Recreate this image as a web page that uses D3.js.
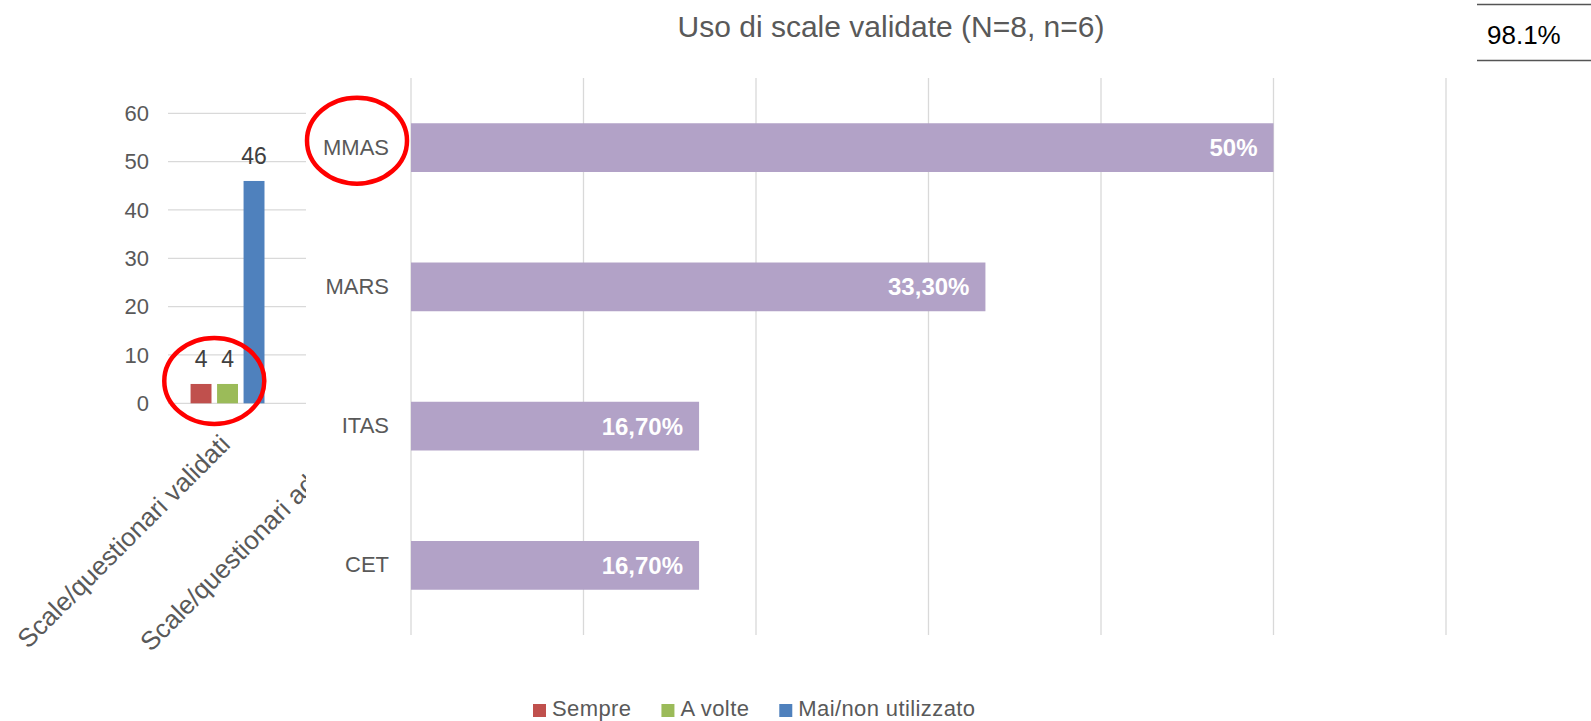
<!DOCTYPE html>
<html>
<head>
<meta charset="utf-8">
<script src="https://cdn.jsdelivr.net/npm/d3@7"></script>
<style>
  html, body { margin: 0; padding: 0; background: #fff; }
  svg { display: block; font-family: "Liberation Sans", Arial, sans-serif; }
</style>
</head>
<body>
<div class="chart"></div>
<script>
// left chart (partly hidden behind the right one)
const leftCats = ["Scale/questionari validati", "Scale/questionari adattati"];
const leftSeries = ["Sempre", "A volte", "Mai/non utilizzato"];
const sempreValues = [4, null];
const aVolteValues = [4, null];
const maiValues = [46, null];
const leftTicks = [0, 10, 20, 30, 40, 50, 60];

// right chart
const scaleNames = ["MMAS", "MARS", "ITAS", "CET"];
const scaleShares = [0.5, 0.333, 0.167, 0.167];
const shareLabels = ["50%", "33,30%", "16,70%", "16,70%"];
const shareTicks = [0, 0.1, 0.2, 0.3, 0.4, 0.5, 0.6];

const chartTitle = "Uso di scale validate (N=8, n=6)";
const cornerValue = "98.1%";

const width = 1591, height = 721;
const seriesColors = d3.scaleOrdinal().domain(leftSeries).range(["#C0504D", "#9BBB59", "#4F81BD"]);

const svg = d3.select(".chart").append("svg")
  .attr("width", width)
  .attr("height", height);

// ---------- left chart ----------
const left = svg.append("g");

const yLeft = d3.scaleLinear().domain([0, 60]).range([403.3, 113.3]);
const x0 = d3.scaleBand().domain(leftCats).range([164.5, 416.5])
  .paddingInner(0.413).paddingOuter(0.207);
const x1 = d3.scaleBand().domain(leftSeries).range([0, x0.bandwidth()])
  .paddingInner(0.21).paddingOuter(0);

left.selectAll(".lgrid")
  .data(leftTicks)
  .enter()
  .append("line")
  .attr("x1", 168)
  .attr("x2", 416)
  .attr("y1", (d) => yLeft(d))
  .attr("y2", (d) => yLeft(d))
  .attr("stroke", "#d9d9d9")
  .attr("stroke-width", 1.3);

const yAxisLeft = d3.axisLeft(yLeft).tickValues(leftTicks).tickSize(0).tickPadding(0);
left.append("g")
  .attr("transform", "translate(149,0)")
  .call(yAxisLeft)
  .call((g) => g.select(".domain").remove())
  .selectAll("text")
  .attr("font-size", 22)
  .attr("fill", "#595959")
  .attr("font-family", "Liberation Sans, Arial, sans-serif");

const leftRows = leftCats.map((c, i) => ({
  cat: c,
  vals: [
    { s: leftSeries[0], v: sempreValues[i] },
    { s: leftSeries[1], v: aVolteValues[i] },
    { s: leftSeries[2], v: maiValues[i] }
  ].filter((d) => d.v != null)
}));

const groups = left.selectAll(".grp")
  .data(leftRows)
  .enter()
  .append("g")
  .attr("transform", (d) => `translate(${x0(d.cat)},0)`);

groups.selectAll("rect")
  .data((d) => d.vals)
  .enter()
  .append("rect")
  .attr("x", (d) => x1(d.s))
  .attr("width", x1.bandwidth())
  .attr("y", (d) => yLeft(d.v))
  .attr("height", (d) => yLeft(0) - yLeft(d.v))
  .attr("fill", (d) => seriesColors(d.s));

groups.selectAll("text")
  .data((d) => d.vals)
  .enter()
  .append("text")
  .attr("x", (d) => x1(d.s) + x1.bandwidth() / 2)
  .attr("y", (d) => yLeft(d.v) - 17)
  .attr("text-anchor", "middle")
  .attr("font-size", 23)
  .attr("fill", "#404040")
  .text((d) => d.v);

// rotated category labels
left.selectAll(".catlab")
  .data(leftCats)
  .enter()
  .append("text")
  .attr("transform", (d) => `translate(${x0(d) + x0.bandwidth() / 2 + 4},446) rotate(-45)`)
  .attr("text-anchor", "end")
  .attr("font-size", 26)
  .attr("fill", "#595959")
  .text((d) => d);

// legend
const legend = left.append("g");
let lx = 533;
leftSeries.forEach((s) => {
  legend.append("rect")
    .attr("x", lx)
    .attr("y", 704)
    .attr("width", 13)
    .attr("height", 13)
    .attr("fill", seriesColors(s));
  const t = legend.append("text")
    .attr("x", lx + 19)
    .attr("y", 716)
    .attr("font-size", 22)
    .attr("letter-spacing", 0.4)
    .attr("fill", "#595959")
    .text(s);
  lx = lx + 19 + t.node().getComputedTextLength() + 30;
});

// ---------- right chart (white panel on top) ----------
const right = svg.append("g");
right.append("rect")
  .attr("x", 306)
  .attr("y", 0)
  .attr("width", width - 306)
  .attr("height", 660)
  .attr("fill", "#fff");

const xRight = d3.scaleLinear().domain([0, 0.6]).range([411, 1446]);
const yRight = d3.scaleBand().domain(scaleNames).range([78, 635])
  .paddingInner(0.65).paddingOuter(0.325);

right.selectAll(".rgrid")
  .data(shareTicks)
  .enter()
  .append("line")
  .attr("x1", (d) => xRight(d))
  .attr("x2", (d) => xRight(d))
  .attr("y1", 78)
  .attr("y2", 635)
  .attr("stroke", "#d9d9d9")
  .attr("stroke-width", 1.3);

right.selectAll(".bar")
  .data(scaleNames)
  .enter()
  .append("rect")
  .attr("x", xRight(0))
  .attr("y", (d) => yRight(d))
  .attr("height", yRight.bandwidth())
  .attr("width", (d, i) => xRight(scaleShares[i]) - xRight(0))
  .attr("fill", "#B2A2C7");

right.selectAll(".barlab")
  .data(scaleNames)
  .enter()
  .append("text")
  .attr("x", (d, i) => xRight(scaleShares[i]) - 16)
  .attr("y", (d) => yRight(d) + yRight.bandwidth() / 2)
  .attr("dy", "0.35em")
  .attr("text-anchor", "end")
  .attr("font-size", 24)
  .attr("font-weight", "bold")
  .attr("fill", "#fff")
  .text((d, i) => shareLabels[i]);

const yAxisRight = d3.axisLeft(yRight).tickSize(0).tickPadding(0);
right.append("g")
  .attr("transform", "translate(389,0)")
  .call(yAxisRight)
  .call((g) => g.select(".domain").remove())
  .selectAll("text")
  .attr("font-size", 22)
  .attr("fill", "#595959")
  .attr("font-family", "Liberation Sans, Arial, sans-serif");

right.append("text")
  .attr("x", 891)
  .attr("y", 37)
  .attr("text-anchor", "middle")
  .attr("font-size", 30)
  .attr("fill", "#595959")
  .text(chartTitle);

// corner cell
right.append("line")
  .attr("x1", 1477).attr("x2", width)
  .attr("y1", 4.5).attr("y2", 4.5)
  .attr("stroke", "#555").attr("stroke-width", 1.5);
right.append("line")
  .attr("x1", 1477).attr("x2", width)
  .attr("y1", 60.5).attr("y2", 60.5)
  .attr("stroke", "#555").attr("stroke-width", 1.5);
right.append("text")
  .attr("x", 1487)
  .attr("y", 44)
  .attr("font-size", 26)
  .attr("fill", "#000")
  .text(cornerValue);

// red highlight ellipses
const marks = svg.append("g")
  .attr("fill", "none")
  .attr("stroke", "#FF0000")
  .attr("stroke-width", 4.5);

// around the MMAS label
marks.append("ellipse")
  .attr("cx", 357)
  .attr("cy", yRight("MMAS") + yRight.bandwidth() / 2 - 7)
  .attr("rx", 50)
  .attr("ry", 43);

// around the "Sempre" / "A volte" bars
marks.append("ellipse")
  .attr("cx", x0(leftCats[0]) + (x1("Sempre") + x1("A volte") + x1.bandwidth()) / 2)
  .attr("cy", yLeft(4) - 3)
  .attr("rx", 50)
  .attr("ry", 43);
</script>
</body>
</html>
